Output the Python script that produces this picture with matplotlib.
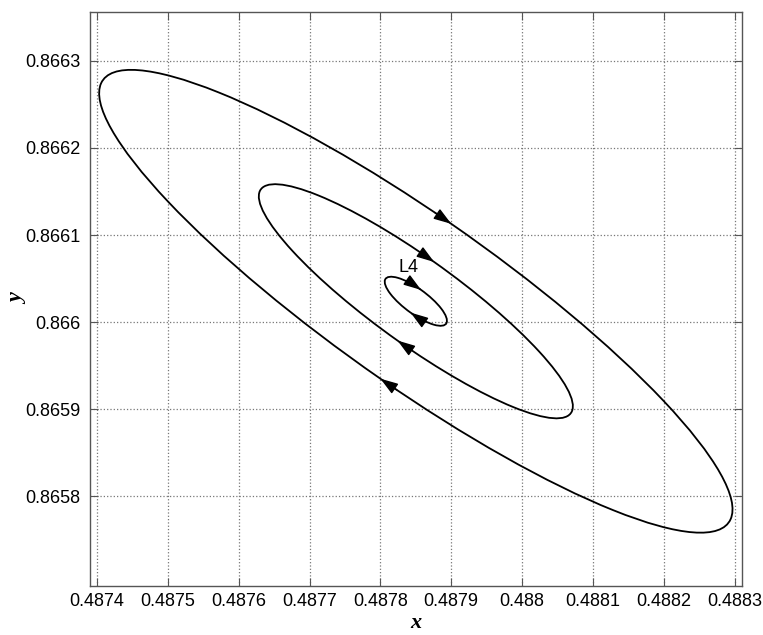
import numpy as np
import matplotlib.pyplot as plt
from matplotlib.patches import Ellipse

# orbitas alrededor de L4
centro_x = 0.48785
centro_y = 0.866024
semieje_mayor = [5.10e-4, 2.54e-4, 0.50e-4]
semieje_menor = [1.02e-4, 0.52e-4, 0.15e-4]
inclinacion = [-29.4, -29.9, -30.0]
fase_flechas = [90, 270]  # grados sobre cada orbita

# etiqueta del punto
etiqueta = "L4"
etiqueta_x = 0.487840
etiqueta_y = 0.8660632

x_ticks = [0.4874, 0.4875, 0.4876, 0.4877, 0.4878, 0.4879, 0.4880, 0.4881, 0.4882, 0.4883]
x_labels = ["0.4874", "0.4875", "0.4876", "0.4877", "0.4878", "0.4879", "0.488", "0.4881", "0.4882", "0.4883"]
y_ticks = [0.8658, 0.8659, 0.8660, 0.8661, 0.8662, 0.8663]
y_labels = ["0.8658", "0.8659", "0.866", "0.8661", "0.8662", "0.8663"]

plt.rcParams['font.family'] = ['Liberation Sans', 'DejaVu Sans']

fig = plt.figure(figsize=(7.63, 6.35), dpi=100)
ax = fig.add_axes([0.118, 0.077, 0.854, 0.904])

for a, b, ang in zip(semieje_mayor, semieje_menor, inclinacion):
    e = Ellipse((centro_x, centro_y), 2 * a, 2 * b, angle=ang,
                fill=False, edgecolor='black', lw=1.3, zorder=3)
    ax.add_patch(e)
    tr = e.get_patch_transform()
    for fase in fase_flechas:
        t = np.radians(fase)
        dt = np.radians(3)
        punta = tr.transform([np.cos(t), np.sin(t)])
        cola = tr.transform([np.cos(t + dt), np.sin(t + dt)])
        ax.annotate('', xy=punta, xytext=cola,
                    arrowprops=dict(arrowstyle='-|>,head_length=0.9,head_width=0.3',
                                    color='black', lw=1.0, shrinkA=0, shrinkB=0,
                                    mutation_scale=12),
                    zorder=4)

ax.text(etiqueta_x, etiqueta_y, etiqueta, fontsize=13, ha='center', va='center')

ax.set_xlim(0.48739, 0.48831)
ax.set_ylim(0.865697, 0.866356)
ax.set_xticks(x_ticks)
ax.set_xticklabels(x_labels)
ax.set_yticks(y_ticks)
ax.set_yticklabels(y_labels)
ax.tick_params(direction='in', length=6, width=0.8, color='#555555',
               labelsize=13, top=True, right=True, pad=5)
ax.tick_params(axis='y', pad=7)
ax.grid(True, linestyle=':', color='#777777', linewidth=0.9)
for s in ax.spines.values():
    s.set_color('#555555')
    s.set_linewidth(1.0)

ax.set_xlabel('x', fontsize=16, fontstyle='italic', fontweight='bold',
              family='Liberation Serif', va='center')
ax.set_ylabel('y', fontsize=16, fontstyle='italic', fontweight='bold',
              family='Liberation Serif', va='center')
ax.xaxis.set_label_coords(0.5, -0.064)
ax.yaxis.set_label_coords(-0.110, 0.5)

fig.savefig('out.png', dpi=100)
